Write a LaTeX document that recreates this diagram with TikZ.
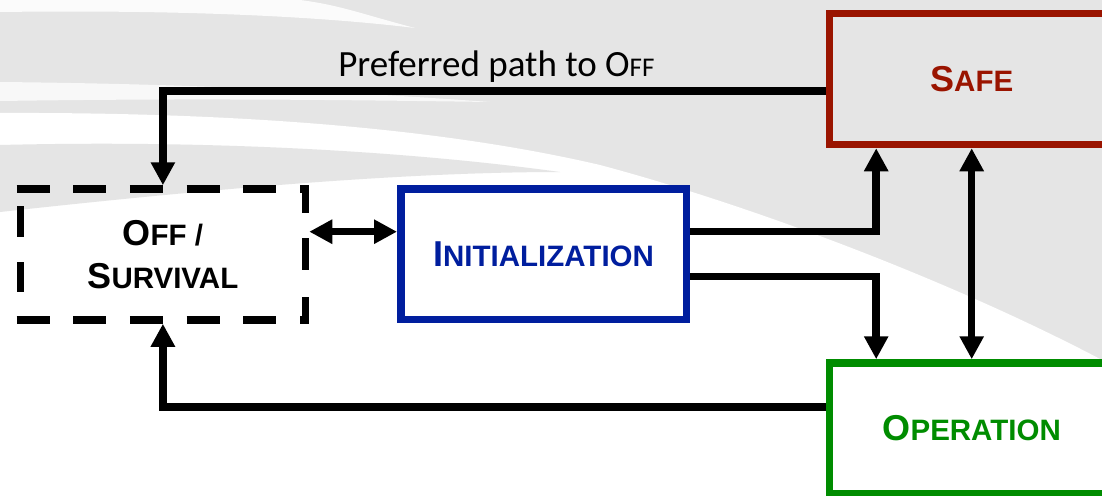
\documentclass[tikz,border=0pt]{standalone}
\usepackage{fontspec}
\setmainfont{Liberation Sans}
\newfontfamily\calibri{Carlito}
\usetikzlibrary{arrows.meta}
\definecolor{bggray}{HTML}{E5E5E5}
\definecolor{safered}{HTML}{9A1400}
\definecolor{opgreen}{HTML}{008C00}
\definecolor{initblue}{HTML}{001E9E}
\newcommand{\capsc}[2]{{\fontsize{36}{43}\selectfont\bfseries #1}{\fontsize{29.5}{43}\selectfont\bfseries #2}}
\tikzset{
  statebox/.style={rectangle, line width=7.5pt, inner sep=0pt, align=center, font=\fontsize{29.5}{43}\selectfont},
  conn/.style={line width=7.5pt, line join=miter},
  arr/.style={conn, -{Triangle[length=23pt,width=23pt]}},
  darr/.style={conn, {Triangle[length=23pt,width=23pt]}-{Triangle[length=23pt,width=23pt]}},
  dashedge/.style={line width=7.5pt},
  swoosh/.style={fill=white, draw=none}
}
\begin{document}
\begin{tikzpicture}[x=1pt, y=-1pt]
\useasboundingbox (0,0) rectangle (1102,495);
\clip (0,0) rectangle (1102,495);
% background
\fill[bggray] (0,0) rectangle (1102,495);
\fill[swoosh, opacity=0.85] (0,0) -- (300,0) .. controls (340,5) and (365,15) .. (415,28) .. controls (300,14) and (150,10) .. (0,12) -- cycle;
\fill[swoosh, opacity=0.75] (0,82) .. controls (200,84) and (350,92) .. (490,102) .. controls (350,100) and (200,98) .. (0,101) -- cycle;
\fill[swoosh] (0,113) .. controls (250,112) and (450,130) .. (600,165) .. controls (750,205) and (950,280) .. (1102,360) -- (1102,495) -- (0,495) -- cycle;
\fill[bggray] (0,145) .. controls (200,140) and (400,150) .. (560,172) .. controls (400,172) and (200,190) .. (0,212) -- cycle;
% coordinates
\coordinate (ytop) at (0,90.8);
\coordinate (ybot) at (0,407.2);
\coordinate (yinitA) at (0,231.7);
\coordinate (yinitB) at (0,276.3);
\coordinate (xa) at (876.2,0);
% nodes
\node[statebox, draw=safered, fill=bggray, minimum width=284pt, minimum height=130.8pt, text=safered] (safe) at (971.7,79.1) {\capsc{S}{AFE}};
\node[statebox, draw=opgreen, fill=white, minimum width=284pt, minimum height=130.8pt, text=opgreen] (oper) at (971.7,428.4) {\capsc{O}{PERATION}};
\node[statebox, draw=initblue, fill=white, minimum width=285.5pt, minimum height=130.5pt, text=initblue] (init) at (543.5,254) {\raisebox{-2pt}{\capsc{I}{NITIALIZATION}}};
\node[statebox, minimum width=285.2pt, minimum height=131pt] (off) at (162.9,254.5) {\capsc{O}{FF /}\\\capsc{S}{URVIVAL}};
% dashed border of off
\draw[dashedge, dash pattern=on 33pt off 23.7pt] ([yshift=-3.75pt]off.north west) -- ([yshift=-3.75pt]off.north east);
\draw[dashedge, dash pattern=on 33pt off 23.7pt] ([yshift=3.75pt]off.south west) -- ([yshift=3.75pt]off.south east);
\draw[dashedge, dash pattern=on 28pt off 25pt on 32pt off 27pt on 40pt] ([xshift=-3.75pt]off.north east) -- ([xshift=-3.75pt]off.south east);
\draw[dashedge, dash pattern=on 0pt off 20.75pt on 31pt off 25pt on 30pt off 100pt] ([xshift=3.75pt]off.north west) -- ([xshift=3.75pt]off.south west);
% connectors
\draw[arr] (safe.west |- ytop) -- node[anchor=base, inner sep=0pt, yshift=14.5pt, xshift=2pt] (lbl) {\calibri\fontsize{37}{42}\selectfont Preferred path to O{\fontsize{27}{30}\selectfont FF}} (off.north |- ytop) -- (off.north);
\draw[arr] (oper.west |- ybot) -| (off.south);
\draw[darr] (off.east |- yinitA) -- (init.west |- yinitA);
\draw[arr] (init.east |- yinitA) -| (safe.south -| xa);
\draw[arr] (init.east |- yinitB) -| (oper.north -| xa);
\draw[darr] (safe.south) -- (oper.north);
\end{tikzpicture}
\end{document}
